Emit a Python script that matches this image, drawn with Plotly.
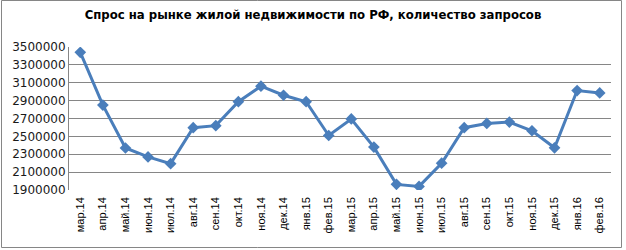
import plotly.graph_objects as go

months = ["мар.14", "апр.14", "май.14", "июн.14", "июл.14", "авг.14", "сен.14", "окт.14",
          "ноя.14", "дек.14", "янв.15", "фев.15", "мар.15", "апр.15", "май.15", "июн.15",
          "июл.15", "авг.15", "сен.15", "окт.15", "ноя.15", "дек.15", "янв.16", "фев.16"]
requests = [3440000, 2850000, 2370000, 2270000, 2195000, 2597000, 2620000, 2888000,
            3062000, 2960000, 2888000, 2510000, 2695000, 2380000, 1963000, 1940000,
            2200000, 2597000, 2645000, 2660000, 2563000, 2372000, 3013000, 2986000]

W, H = 626, 250
ml, mr, mt, mb = 69, 15, 47, 60
pw, ph = W - ml - mr, H - mt - mb

fig = go.Figure()
fig.add_trace(go.Scatter(
    x=months, y=requests, mode="lines+markers",
    line=dict(color="#4A7EBB", width=3),
    marker=dict(symbol="diamond", size=9, color="#4A7EBB"),
    showlegend=False, hoverinfo="x+y"))

fig.update_layout(
    width=W, height=H,
    margin=dict(l=ml, r=mr, t=mt, b=mb, pad=0, autoexpand=False),
    paper_bgcolor="white", plot_bgcolor="white",
    title=dict(text="<b>Спрос на рынке жилой недвижимости по РФ, количество запросов</b>",
               x=313 / W, xanchor="center", xref="container", y=1 - 14 / H, yanchor="middle",
               font=dict(family="DejaVu Sans Condensed, Liberation Sans", size=13, color="#000000")),
    xaxis=dict(type="category", range=[-0.5, len(months) - 0.5], automargin=False,
               tickangle=-90, tickfont=dict(family="Liberation Sans", size=11, color="#000000"),
               ticklabelstandoff=4,
               showgrid=False, showline=False, zeroline=False, ticks=""),
    yaxis=dict(range=[1900000, 3500000], tick0=1900000, dtick=200000, tickformat="d",
               automargin=False,
               tickfont=dict(family="DejaVu Sans", size=12, color="#1a1a1a"),
               showgrid=True, gridcolor="#868686", gridwidth=1,
               showline=True, linecolor="#868686", linewidth=1,
               zeroline=False, ticks="", ticklen=0),
    shapes=[dict(type="rect", xref="paper", yref="paper",
                 x0=(1.5 - ml) / pw, x1=(621.5 - ml) / pw,
                 y0=(H - 247.5 - mb) / ph, y1=(H - 0.5 - mb) / ph,
                 line=dict(color="#868686", width=1), fillcolor="rgba(0,0,0,0)", layer="above")],
)

fig.write_html("out.html", config={"displayModeBar": False},
               post_script="document.body.style.margin='0';document.body.style.overflow='hidden';")
